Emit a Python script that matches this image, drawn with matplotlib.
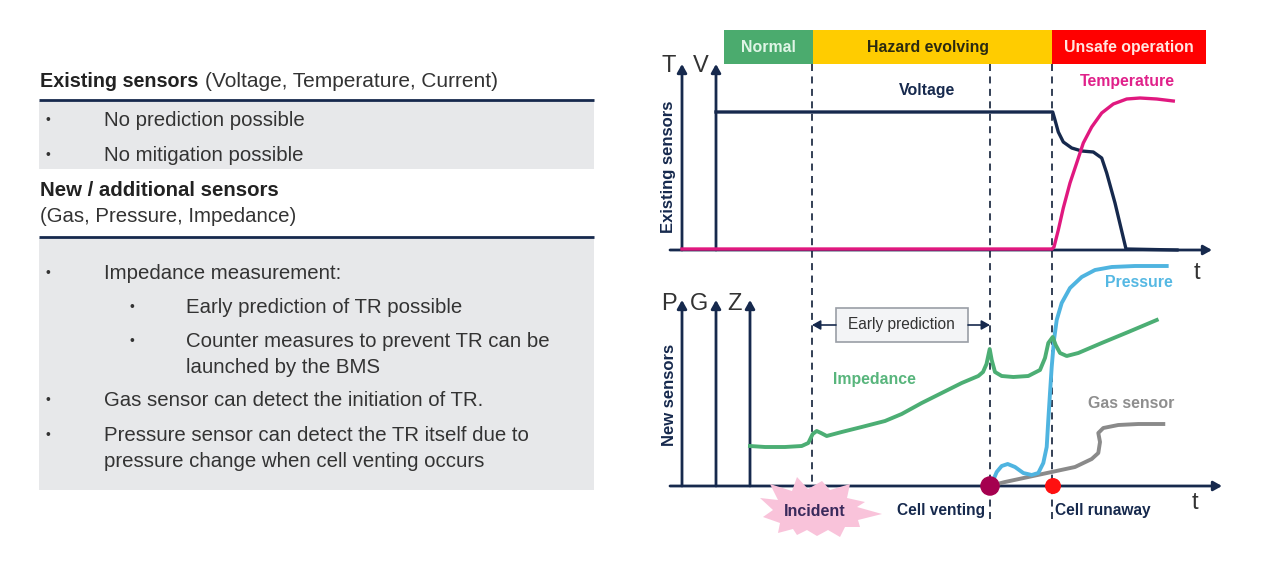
#!/usr/bin/env python3
"""Thermal runaway sensor slide: text panel on the left, sensor curves on the right."""
import matplotlib
matplotlib.use('Agg')
import matplotlib.pyplot as plt
from matplotlib.patches import Polygon, Rectangle

NAVY = '#16294d'
TEXT = '#333333'

# Time runs from the V axis, signal is height above the t axis (both)
voltage_t = [0, 336.7, 339, 342.3, 347.3, 355.7, 365.7, 377.3, 385.7, 390.7, 399, 410, 461]
voltage_v = [138, 138, 130, 118, 108, 102, 99, 98, 92, 77, 47, 1, 0]
temperature_t = [-34, 336, 338, 342.3, 347.3, 354, 360.7, 367.3, 375.7, 385.7, 397.3, 410.7, 424, 440.7, 457.3]
temperature_v = [1, 1, 3, 20, 42, 67, 87, 107, 123, 137, 146, 151, 152, 151, 149]
impedance_t = [34, 49, 69, 85.7, 92.3, 96.7, 100.7, 105, 110.7, 125.7, 145.7, 169, 185.7, 205.7,
               225.7, 245.7, 262.3, 267, 270.5, 273.7, 275.7, 279, 285.7, 297.3, 312.3, 324,
               329, 332.3, 336.7, 339.7, 344, 350.7, 362.3, 385.7, 412.3, 440.7]
impedance_v = [40, 39, 39, 40, 43, 52, 55, 53, 50, 54, 59, 65, 72, 83,
               93, 103, 110, 114, 122, 137, 126, 114, 110, 109, 110, 116,
               128, 143, 149, 141, 133, 130, 133, 143, 154, 166]
pressure_t = [273.5, 277.3, 280.7, 285.7, 291.7, 299, 307.3, 315.7, 322.3, 327.3, 330.7, 332.3, 334,
              335.7, 338, 340.7, 345.7, 354, 365.7, 379, 395.7, 419, 450.7]
pressure_v = [0, 6, 14, 20, 22, 19, 13, 11, 13, 23, 39, 66, 93,
              119, 146, 166, 183, 198, 209, 216, 219, 220, 220]
gas_t = [273.5, 289, 312.3, 335.7, 359, 375.7, 382.3, 384, 382.3, 387.3, 402.3, 422.3, 447.3]
gas_v = [0, 4, 9, 14, 19, 27, 33, 44, 53, 58, 61, 62, 62]

phase_names = ['Normal', 'Hazard evolving', 'Unsafe operation']
phase_edges = [8, 97, 336, 490]
phase_colors = ['#4bab6e', '#ffcc00', '#ff0000']
phase_text_colors = ['#dff5e6', '#2b2a10', '#ffe5e0']
marker_lines = [96, 274, 336]
event_t = [274, 337]
event_colors = ['#a5004f', '#ff1010']

# Left panel text: x, y, text
panel_left = [
    (104, 120, 'No prediction possible'),
    (104, 155, 'No mitigation possible'),
    (104, 273, 'Impedance measurement:'),
    (186, 307, 'Early prediction of TR possible'),
    (186, 341, 'Counter measures to prevent TR can be'),
    (186, 367, 'launched by the BMS'),
    (104, 400, 'Gas sensor can detect the initiation of TR.'),
    (104, 435, 'Pressure sensor can detect the TR itself due to'),
    (104, 461, 'pressure change when cell venting occurs'),
]
bullets = [(45, 120), (45, 155), (45, 273), (129, 307), (129, 341), (45, 400), (45, 435)]
star_x = [760, 778, 770, 792, 797, 808, 822, 830, 850, 847, 865, 857, 882, 858, 860, 845, 840, 828,
          817, 807, 797, 793, 778, 780, 763, 773]
star_y = [498, 500, 484, 491, 477, 489, 481, 490, 484, 498, 502, 507, 514, 520, 527, 527, 537, 530,
          536, 530, 535, 529, 533, 523, 517, 510]

plt.rcParams['font.family'] = ['Liberation Sans', 'DejaVu Sans']
fig = plt.figure(figsize=(12.8, 5.61), dpi=100)

# Layout layer in picture pixels
ax = fig.add_axes([0, 0, 1, 1])
ax.set_xlim(0, 1280)
ax.set_ylim(561, 0)
ax.axis('off')

ax.add_patch(Rectangle((39, 101), 555, 68, fc='#e7e8ea', ec='none'))
ax.add_patch(Rectangle((39, 238), 555, 252, fc='#e7e8ea', ec='none'))
ax.plot([39, 594], [100, 100], color=NAVY, lw=2, solid_capstyle='butt')
ax.plot([39, 594], [237, 237], color=NAVY, lw=2, solid_capstyle='butt')

ax.text(40, 81, 'Existing sensors', fontsize=14.2, fontweight='bold', color='#222222', va='center')
ax.text(205, 81, '(Voltage, Temperature, Current)', fontsize=15, color=TEXT, va='center')
ax.text(40, 190, 'New / additional sensors', fontsize=14.7, fontweight='bold', color='#222222', va='center')
ax.text(40, 216, '(Gas, Pressure, Impedance)', fontsize=14.7, color=TEXT, va='center')
for x, y, s in panel_left:
    ax.text(x, y, s, fontsize=14.7, color=TEXT, va='center')
for x, y in bullets:
    ax.text(x, y, '•', fontsize=10, color=TEXT, va='center', ha='left')

# Phase bar on top
for i, label_x in enumerate((768, 928, 1129)):
    x0 = 716 + phase_edges[i]
    x1 = 716 + phase_edges[i + 1]
    ax.add_patch(Rectangle((x0, 30), x1 - x0, 34, fc=phase_colors[i], ec='none'))
    ax.text(label_x, 47, phase_names[i], fontsize=11.4, fontweight='bold',
            color=phase_text_colors[i], ha='center', va='center')

for t in marker_lines:
    ax.plot([716 + t, 716 + t], [64, 520], color='#333f55', lw=1.4, ls=(0, (3.6, 2.8)), zorder=1)

ax.add_patch(Polygon(list(zip(star_x, star_y)), fc='#f9c3da', ec='none', zorder=4))
ax.text(815, 512, 'Incident', fontsize=11.5, fontweight='bold', color='#3a2a5c',
        ha='center', va='center', zorder=5)


def arrow(x0, y0, x1, y1, lw=2):
    ax.annotate('', xy=(x1, y1), xytext=(x0, y0), zorder=3,
                arrowprops=dict(arrowstyle='-|>,head_length=0.5,head_width=0.28', color=NAVY,
                                lw=lw, shrinkA=0, shrinkB=0))


# Axis arrows
for x in (682, 716):
    arrow(x, 250, x, 64)
arrow(670, 250, 1212, 250)
for x in (682, 716, 750):
    arrow(x, 486, x, 300)
arrow(670, 486, 1222, 486)

for x, y, s in [(669, 66, 'T'), (701, 66, 'V'), (669, 304, 'P'), (699, 304, 'G'), (735, 304, 'Z'),
                (1197, 273, 't'), (1195, 503, 't')]:
    ax.text(x, y, s, fontsize=17, color=TEXT, ha='center', va='center')

ax.text(669, 167, 'Existing sensors', fontsize=12, fontweight='bold', color=NAVY,
        rotation=90, ha='center', va='center')
ax.text(669, 394.5, 'New sensors', fontsize=12, fontweight='bold', color=NAVY,
        rotation=90, ha='center', va='center')

ax.text(927, 90, 'Voltage', fontsize=11.4, fontweight='bold', color=NAVY, ha='center', va='center')
ax.text(1127, 81, 'Temperature', fontsize=11.4, fontweight='bold', color='#e0218a', ha='center', va='center')
ax.text(1139, 282, 'Pressure', fontsize=11.4, fontweight='bold', color='#55b8e3', ha='center', va='center')
ax.text(874, 379, 'Impedance', fontsize=11.4, fontweight='bold', color='#58b57c', ha='center', va='center')
ax.text(1131, 403, 'Gas sensor', fontsize=11.4, fontweight='bold', color='#8e8e8e', ha='center', va='center')
ax.text(941, 511, 'Cell venting', fontsize=11.2, fontweight='bold', color=NAVY, ha='center', va='center')
ax.text(1103, 511, 'Cell runaway', fontsize=11.2, fontweight='bold', color=NAVY, ha='center', va='center')

# Early prediction box with its two arrows
ax.add_patch(Rectangle((836, 308), 132, 34, fc='#f3f4f6', ec='#9a9ea6', lw=1.2, zorder=3))
ax.text(901, 324, 'Early prediction', fontsize=11.2, color=TEXT, ha='center', va='center', zorder=4)
arrow(836, 325, 812, 325, lw=1.2)
arrow(968, 325, 990, 325, lw=1.2)

# Curve axes, one unit equals one picture pixel
top = fig.add_axes([640 / 1280, 1 - 260 / 561, 600 / 1280, 200 / 561])
top.set_xlim(-76, 524)
top.set_ylim(-10, 190)
top.axis('off')
top.plot(voltage_t, voltage_v, color=NAVY, lw=2.4, solid_joinstyle='round')
top.plot(temperature_t, temperature_v, color='#e0187f', lw=2.4, solid_joinstyle='round')

bottom = fig.add_axes([640 / 1280, 1 - 496 / 561, 600 / 1280, 240 / 561])
bottom.set_xlim(-76, 524)
bottom.set_ylim(-10, 230)
bottom.axis('off')
bottom.plot(gas_t, gas_v, color='#8a8a8a', lw=2.8, solid_joinstyle='round')
bottom.plot(pressure_t, pressure_v, color='#4fb4e0', lw=2.8, solid_joinstyle='round')
bottom.plot(impedance_t, impedance_v, color='#4cae74', lw=2.8, solid_joinstyle='round')
bottom.scatter(event_t, [0, 0], s=[170, 110], c=event_colors, zorder=5, clip_on=False)

fig.savefig('out.png', dpi=100)
